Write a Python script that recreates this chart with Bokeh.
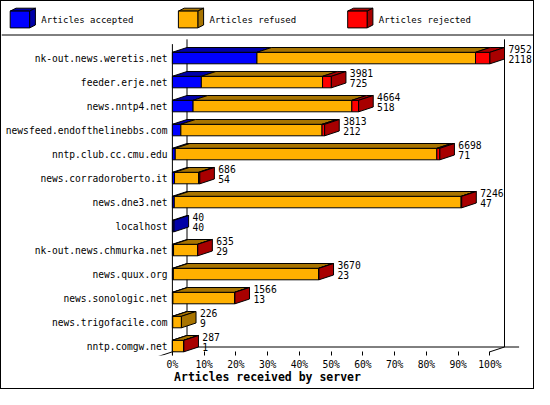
from bokeh.plotting import figure
from bokeh.layouts import column
from bokeh.models import Range1d, FixedTicker, Span, ColumnDataSource
from bokeh.core.properties import value
from bokeh.embed import file_html
from bokeh.resources import INLINE

# ---------------- data ----------------
servers = ["nk-out.news.weretis.net", "feeder.erje.net", "news.nntp4.net",
           "newsfeed.endofthelinebbs.com", "nntp.club.cc.cmu.edu",
           "news.corradoroberto.it", "news.dne3.net", "localhost",
           "nk-out.news.chmurka.net", "news.quux.org", "news.sonologic.net",
           "news.trigofacile.com", "nntp.comgw.net"]
offered = [7952, 3981, 4664, 3813, 6698, 686, 7246, 40, 635, 3670, 1566, 226, 287]
accepted = [2118, 725, 518, 212, 71, 54, 47, 40, 29, 23, 13, 9, 1]
refused = [5474, 3036, 3976, 3536, 6552, 602, 7184, 0, 600, 3637, 1545, 217, 282]
rejected = [360, 220, 170, 65, 75, 30, 15, 0, 6, 10, 8, 0, 4]
series_names = ["Articles accepted", "Articles refused", "Articles rejected"]
series_colors = ["#0000ff", "#ffb000", "#ff0000"]
series_dark = ["#0000a8", "#a87400", "#a80000"]
x_ticks = [0, 10, 20, 30, 40, 50, 60, 70, 80, 90, 100]
x_tick_labels = ["0%", "10%", "20%", "30%", "40%", "50%", "60%", "70%", "80%", "90%", "100%"]
x_title = "Articles received by server"

MONO = "DejaVu Sans Mono"

# ---------------- layout constants (px) ----------------
W = 532             # inner width (inside 1px border)
H = 387             # inner height
FRAME_H = 354       # frame covers legend + chart, axis below
K = 3.175           # px per percent
ZERO_PX = 170.9     # canvas x of 0 %
ROW_PX = 24.0
ROW0_PX = 56.56     # canvas y of first row centre
FACE_H = 11.5
DX_PX = 14.6
DY_PX = 4.8
LEG_H = 34

x_start = -ZERO_PX / K
x_end = x_start + W / K
y_top = -ROW0_PX / ROW_PX
y_bottom = y_top + FRAME_H / ROW_PX


def fx(px):
    return x_start + px / K


def fy(py):
    return y_top + py / ROW_PX


dxu = DX_PX / K
dyu = -DY_PX / ROW_PX
hh = FACE_H / 2 / ROW_PX

p = figure(width=W, height=H, x_range=Range1d(x_start, x_end),
           y_range=Range1d(y_bottom, y_top), toolbar_location=None, output_backend="svg",
           min_border_left=0, min_border_right=0, min_border_top=0,
           min_border_bottom=H - FRAME_H, outline_line_color=None, y_axis_location=None)
p.xgrid.visible = False
p.ygrid.visible = False

# ---------------- legend ----------------
item_offsets = [0, 168.2, 337.5]
c_l, c_r, c_t, c_b, c_dx, c_dy = 8.7, 28.1, 9.6, 26.4, 5.8, 2.9
lq = dict(left=[], right=[], top=[], bottom=[], color=[])
lp_xs, lp_ys, lp_c = [], [], []
lt_x, lt_y, lt_t = [], [], []
for o, name, col, dk in zip(item_offsets, series_names, series_colors, series_dark):
    l, r = c_l + o, c_r + o
    lq["left"].append(fx(l)); lq["right"].append(fx(r))
    lq["top"].append(fy(c_t)); lq["bottom"].append(fy(c_b)); lq["color"].append(col)
    lp_xs.append([fx(l), fx(r), fx(r + c_dx), fx(l + c_dx)])
    lp_ys.append([fy(c_t), fy(c_t), fy(c_t - c_dy), fy(c_t - c_dy)])
    lp_c.append(dk)
    lp_xs.append([fx(r), fx(r + c_dx), fx(r + c_dx), fx(r)])
    lp_ys.append([fy(c_t), fy(c_t - c_dy), fy(c_b - c_dy), fy(c_b)])
    lp_c.append(dk)
    lt_x.append(fx(39.8 + o)); lt_y.append(fy(18.2)); lt_t.append(name)
p.patches(xs=lp_xs, ys=lp_ys, fill_color=lp_c, line_color="black", line_width=1)
p.quad(source=ColumnDataSource(lq), left="left", right="right", top="top", bottom="bottom",
       fill_color="color", line_color="black", line_width=1)
p.text(x=lt_x, y=lt_y, text=lt_t, text_font=value(MONO), text_font_size="9px",
       text_baseline="middle", text_align="left", text_color="black")
p.add_layout(Span(location=fy(LEG_H - 0.5), dimension="width", line_color="black", line_width=1))

# ---------------- chart ----------------
n = len(servers)
rows = list(range(n))
scale = 100.0 / max(offered)

floor_front = (n - 1) + hh
floor_back = floor_front + dyu
wall_top = fy(LEG_H + 3.84)
p.segment(x0=[dxu, 0, 100 + dxu, dxu, -dxu, 100],
          y0=[wall_top, wall_top - dyu, wall_top, floor_back, floor_front - dyu, floor_front],
          x1=[dxu, 0, 100 + dxu, 100 + 2 * dxu, dxu, 100 + dxu],
          y1=[floor_back, y_bottom, floor_back, floor_back, floor_back, floor_back],
          line_color="black", line_width=1)

fq = dict(left=[], right=[], top=[], bottom=[], color=[])
tp_xs, tp_ys, tp_c = [], [], []
lab_x, lab_y1, lab_y2, lab_t1, lab_t2 = [], [], [], [], []
for i in rows:
    vals = [accepted[i], refused[i], rejected[i]]
    cum = 0
    last = None
    top = i - hh
    bot = i + hh
    for k, v in enumerate(vals):
        if v <= 0:
            continue
        l = cum * scale
        r = (cum + v) * scale
        fq["left"].append(l); fq["right"].append(r)
        fq["top"].append(top); fq["bottom"].append(bot); fq["color"].append(series_colors[k])
        tp_xs.append([l, r, r + dxu, l + dxu]); tp_ys.append([top, top, top + dyu, top + dyu])
        tp_c.append(series_dark[k])
        cum += v
        last = k
    R = cum * scale
    tp_xs.append([R, R + dxu, R + dxu, R]); tp_ys.append([bot, bot + dyu, top + dyu, top])
    tp_c.append(series_dark[last])
    lab_x.append(R + dxu + 3.9 / K)
    lab_y1.append(i - 9.3 / ROW_PX)
    lab_y2.append(i + 1.25 / ROW_PX)
    lab_t1.append(str(offered[i]))
    lab_t2.append(str(accepted[i]))

p.quad(source=ColumnDataSource(fq), left="left", right="right", top="top", bottom="bottom",
       fill_color="color", line_color="black", line_width=1)
p.patches(xs=tp_xs, ys=tp_ys, fill_color=tp_c, line_color="black", line_width=1)
p.text(x=lab_x, y=lab_y1, text=lab_t1, text_font=value(MONO), text_font_size="9.7px",
       text_baseline="middle", text_align="left", text_color="black")
p.text(x=lab_x, y=lab_y2, text=lab_t2, text_font=value(MONO), text_font_size="9.7px",
       text_baseline="middle", text_align="left", text_color="black")

# server names (category labels), right-aligned left of the bars
p.text(x=[fx(166)] * n, y=rows, text=servers, text_font=value(MONO), text_font_size="9.6px",
       text_baseline="middle", text_align="right", text_color="black")

# x axis: percentages
p.xaxis.ticker = FixedTicker(ticks=x_ticks)
p.xaxis.major_label_overrides = {t: s for t, s in zip(x_ticks, x_tick_labels)}
p.xaxis.major_label_text_font = MONO
p.xaxis.major_label_text_font_size = "9.7px"
p.xaxis.major_label_text_color = "black"
p.xaxis.axis_line_color = None
p.xaxis.minor_tick_line_color = None
p.xaxis.major_tick_line_color = "black"
p.xaxis.major_tick_in = 4
p.xaxis.major_tick_out = 0
p.xaxis.major_label_standoff = 3
p.xaxis.axis_label = x_title
p.xaxis.axis_label_standoff = -3
p.xaxis.axis_label_text_font = MONO
p.xaxis.axis_label_text_font_size = "11.5px"
p.xaxis.axis_label_text_font_style = "bold"
p.xaxis.axis_label_text_color = "black"

layout = column(p, spacing=0, styles={"border": "1px solid black"})

open("out.html", "w").write(file_html(layout, INLINE))
